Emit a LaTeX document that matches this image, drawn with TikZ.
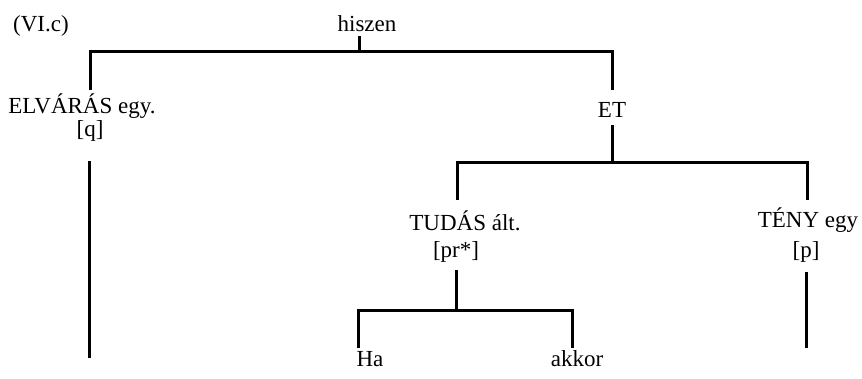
\documentclass[tikz,border=0pt]{standalone}
\usepackage{fontspec}
\setmainfont{Liberation Serif}
\begin{document}
\begin{tikzpicture}[x=1pt,y=-1pt,
  lbl/.style={anchor=base,inner sep=0pt,font=\fontsize{23}{26}\selectfont},
  edge/.style={line width=3pt,line cap=butt}]
\path[use as bounding box] (0,0) rectangle (862,378);
% labels
\node[lbl] (title) at (41,31) {(VI.c)};
\node[lbl] (root) at (367,31) {hiszen};
\node[lbl] (elv) at (82,113) {ELVÁRÁS egy.};
\node[lbl] (q) at (90,136) {[q]};
\node[lbl] (et) at (612,117) {ET};
\node[lbl] (tud) at (465,230) {TUDÁS ált.};
\node[lbl] (pr) at (456,257) {[pr*]};
\node[lbl] (teny) at (808,227) {TÉNY egy};
\node[lbl] (p) at (806,257) {[p]};
\node[lbl] (ha) at (370,366) {Ha};
\node[lbl] (akkor) at (577,366) {akkor};
% junction points
\coordinate (rootS) at (359,36);
\coordinate (j1) at (359,51);
\coordinate (elvN) at (90,90);
\coordinate (etN) at (612,90);
\coordinate (etS) at (612,125);
\coordinate (j2) at (612,162);
\coordinate (tudN) at (457,200);
\coordinate (tenyN) at (807,200);
\coordinate (prS) at (456,270);
\coordinate (j3) at (456,310);
\coordinate (haN) at (358,348);
\coordinate (akkorN) at (572,348);
\coordinate (qS) at (89,161);
\coordinate (qEnd) at (89,358);
\coordinate (pS) at (806,272);
\coordinate (pEnd) at (806,348);
% connectors
\draw[edge] (rootS) -- (j1);
\draw[edge] (elvN) |- (j1) -| (etN);
\draw[edge] (etS) -- (j2);
\draw[edge] (tudN) |- (j2) -| (tenyN);
\draw[edge] (prS) -- (j3);
\draw[edge] (haN) |- (j3) -| (akkorN);
\draw[edge] (qS) -- (qEnd);
\draw[edge] (pS) -- (pEnd);
\end{tikzpicture}
\end{document}
